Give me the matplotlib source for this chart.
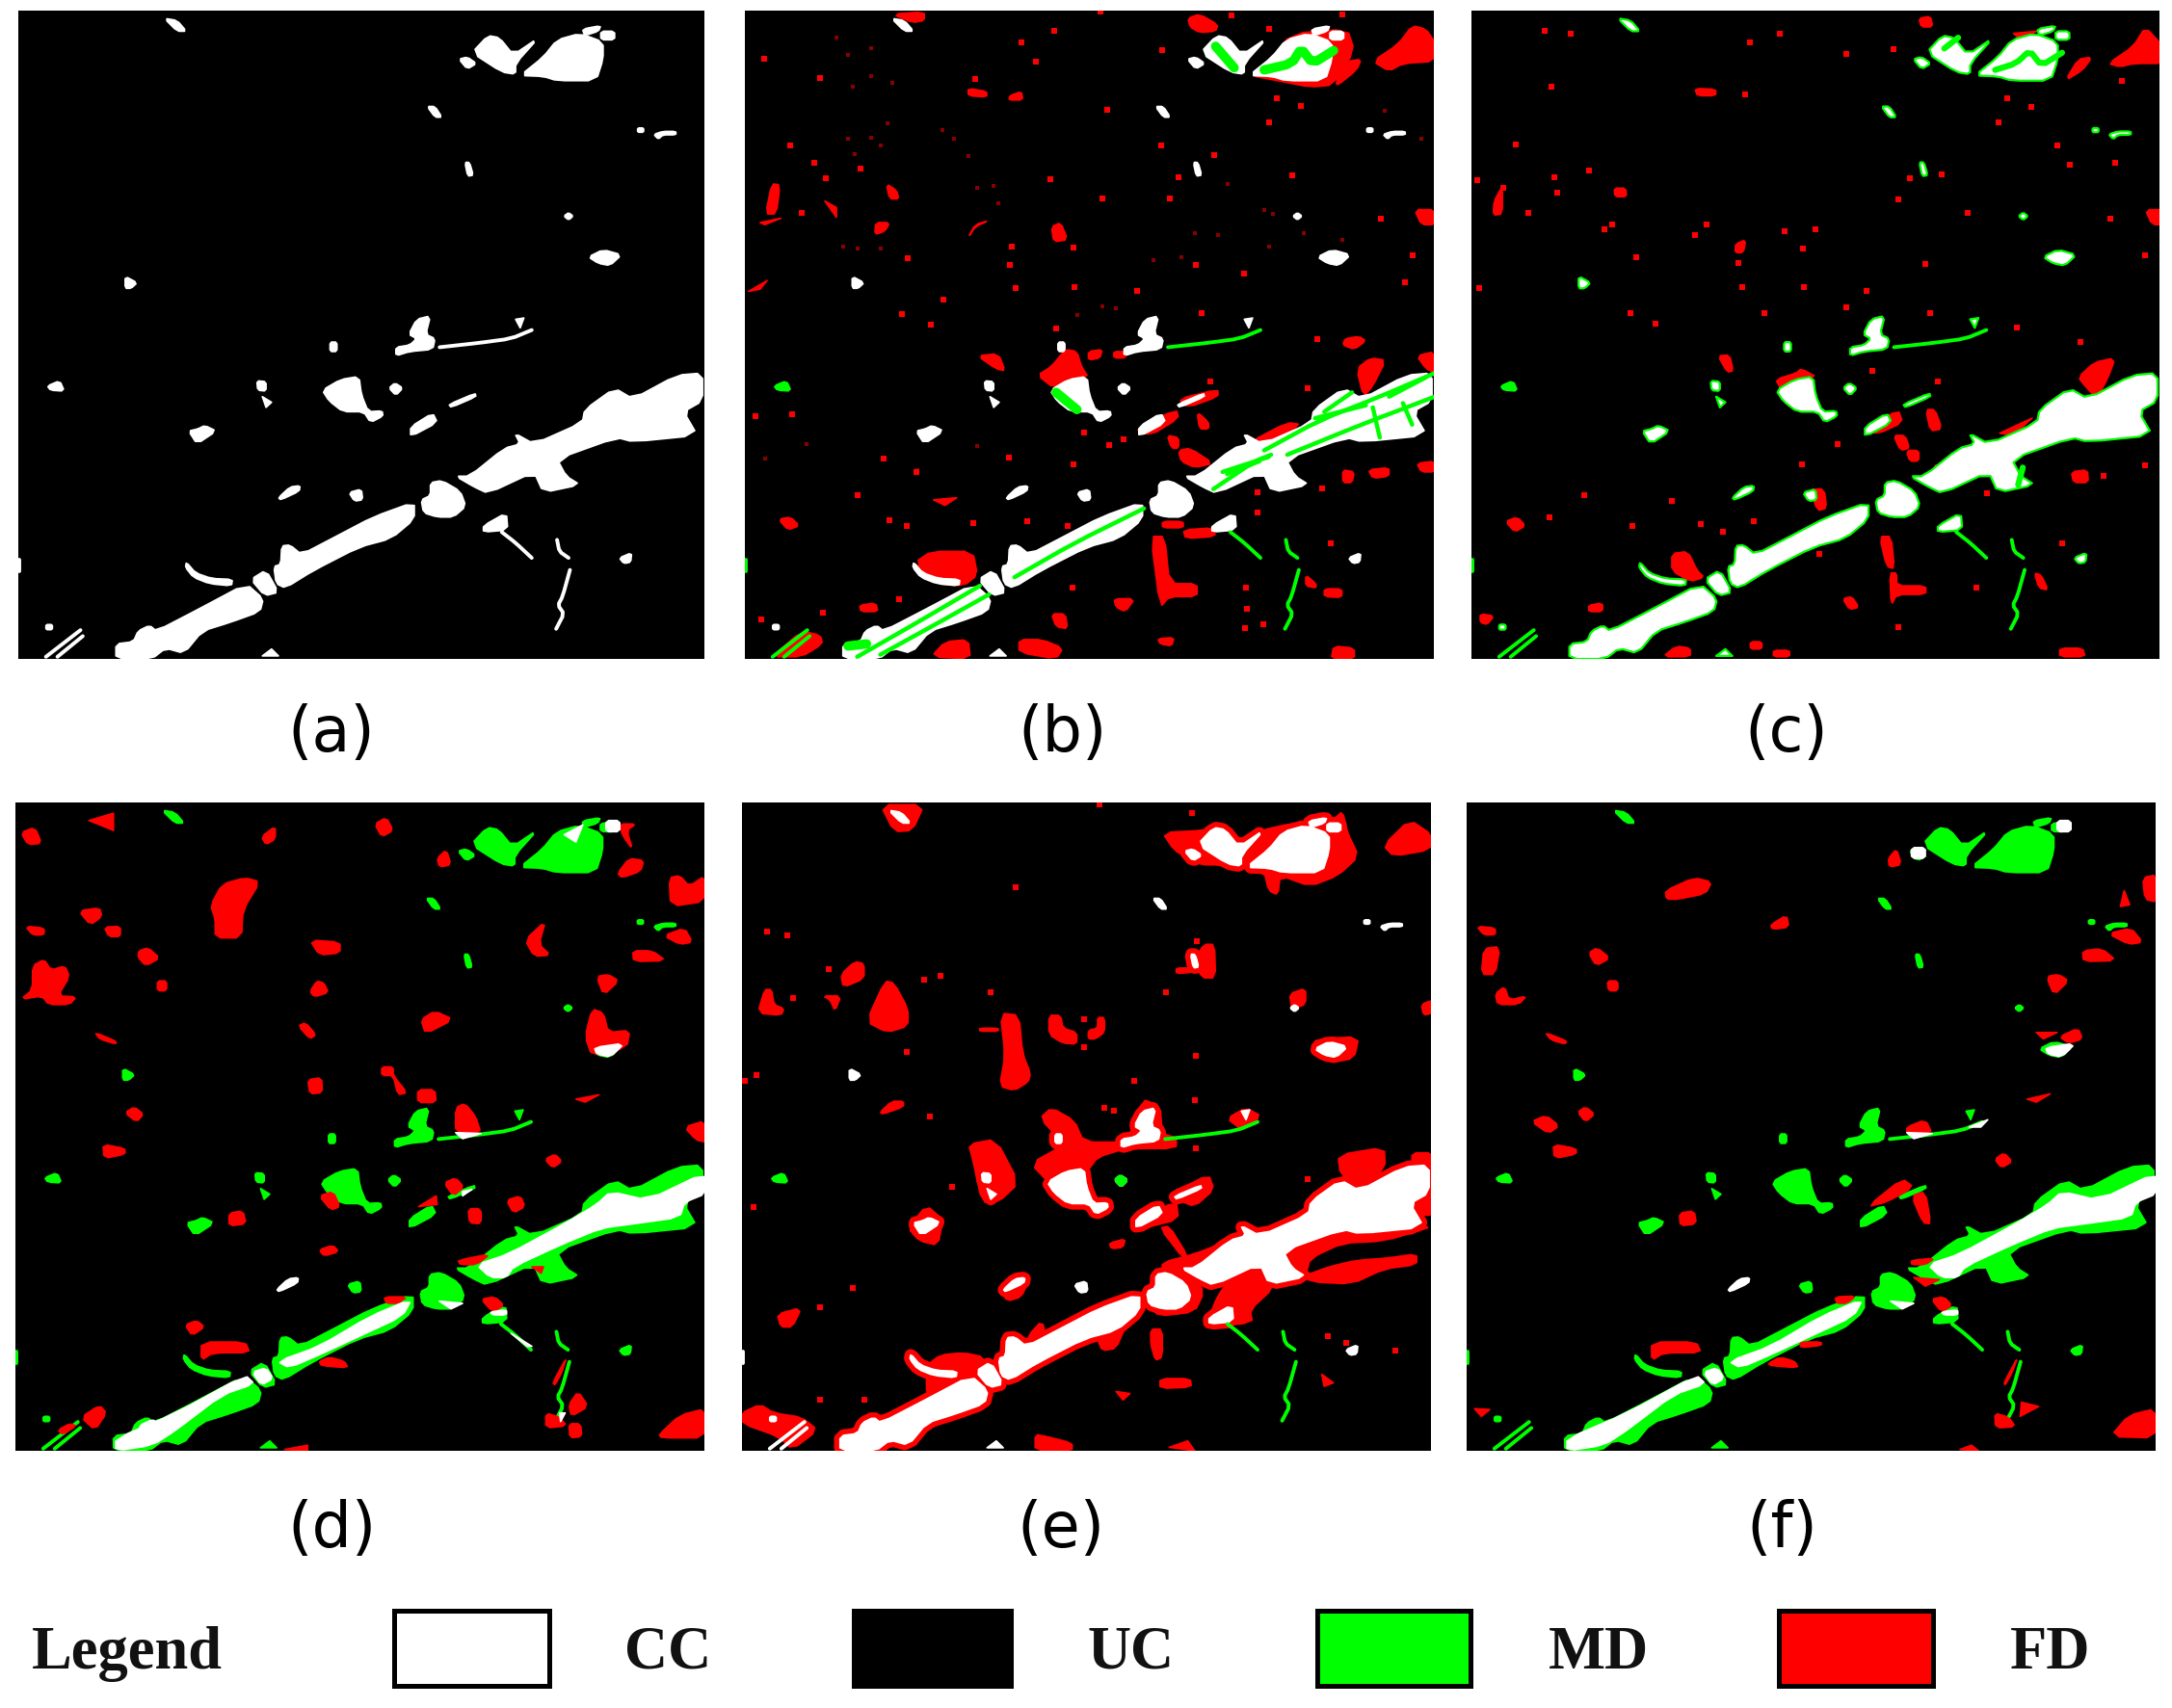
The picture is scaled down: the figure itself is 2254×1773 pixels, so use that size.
import numpy as np
import matplotlib
matplotlib.use('Agg')
import matplotlib.pyplot as plt
from matplotlib.patches import Rectangle

GREEN = '#00ff00'
RED = '#ff0000'
W, H = 2254, 1774

# shapes, reference scene = panel (a) crop coords
ROAD = [
    [(252,1500),(290,1495),(300,1470),(325,1457),(340,1470),(430,1420),(535,1360),(572,1395),(565,1425),(500,1450),(440,1470),(400,1522),(360,1510),(330,1535),(252,1535)],
    [(545,1350),(578,1328),(605,1380),(575,1388)],
    [(595,1320),(610,1315),(612,1272),(630,1270),(655,1292),(730,1250),(810,1205),(900,1170),(900,1210),(850,1255),(780,1275),(680,1330),(620,1370),(600,1360)],
    [(935,1125),(960,1120),(1000,1145),(1012,1180),(985,1205),(950,1205),(920,1195),(915,1165),(935,1155)],
    [(990,1110),(1020,1110),(1095,1045),(1130,1035),(1118,1010),(1160,1035),(1265,985),(1270,955),(1335,905),(1375,930),(1470,875),(1526,870),(1526,935),(1485,960),(1515,1015),(1375,1030),(1340,1020),(1210,1070),(1230,1110),(1260,1130),(1180,1148),(1160,1100),(1060,1150),(1030,1135)],
]
PATCHES = [
    [(1025,125),(1060,85),(1085,90),(1115,130),(1170,90),(1120,150),(1120,175),(1090,170)],
    [(997,140),(1015,135),(1035,150),(1015,163)],
    [(1130,178),(1180,135),(1210,95),(1260,80),(1310,100),(1310,140),(1295,190),(1210,190),(1180,180)],
    [(1265,70),(1305,62),(1300,75),(1270,85)],
    [(1305,75),(1335,75),(1335,95),(1305,95)],
    [(357,45),(385,50),(405,75),(385,75)],
    [(928,250),(945,250),(960,275),(945,275)],
    [(1385,300),(1398,300),(1398,310),(1385,310)],
    [(1420,315),(1440,308),(1468,308),(1468,316),(1440,316),(1430,326)],
    [(1010,380),(1020,380),(1028,410),(1016,412)],
    [(1225,505),(1235,497),(1245,505),(1235,514)],
    [(1278,600),(1310,583),(1350,595),(1325,620),(1300,615)],
    [(272,645),(298,660),(285,673),(272,673)],
    [(905,745),(935,737),(925,780),(945,790),(940,815),(890,820),(860,830),(860,810),(890,805),(905,790),(888,780)],
    [(1120,745),(1138,742),(1130,765)],
    [(717,798),(732,798),(732,820),(717,820)],
    [(558,888),(578,890),(578,912),(560,910)],
    [(570,925),(590,938),(578,950)],
    [(700,910),(740,885),(780,878),(785,920),(800,960),(830,958),(832,970),(805,985),(790,960),(745,960),(715,935)],
    [(845,905),(858,893),(875,905),(860,922)],
    [(975,943),(1032,917),(1034,925),(980,950)],
    [(892,995),(940,963),(950,985),(892,1018)],
    [(410,1005),(430,1000),(445,992),(470,1005),(428,1035)],
    [(758,1148),(785,1140),(788,1165),(770,1168)],
    [(1050,1225),(1100,1195),(1103,1235),(1050,1240)],
    [(1345,1300),(1372,1288),(1370,1310),(1355,1313)],
    [(405,1310),(425,1335),(460,1348),(505,1350),(503,1365),(455,1360),(420,1345),(403,1322)],
    [(570,1528),(590,1512),(605,1528)],
    [(100,1455),(114,1455),(114,1467),(100,1467)],
]
# indices of PATCHES that get the red halo in panel (e)
HALO_E = [0, 1, 2, 3, 4, 5, 9, 11, 13, 15, 16, 17, 18, 20, 21, 22, 24, 26]
TRIANGLE = [(103,900),(130,888),(140,912),(110,910)]
STREAK = [(605,1160),(630,1135),(652,1132),(650,1145),(610,1165)]
THIN_LINES = [
    [(955,810),(1040,800),(1110,790),(1155,770)],
    [(1090,1240),(1120,1265),(1155,1300)],
    [(1210,1258),(1215,1285),(1235,1300)],
    [(1238,1328),(1222,1390),(1212,1410),(1225,1430),(1208,1465)],
    [(100,1530),(175,1468)],
    [(125,1530),(180,1482)],
    [(42,1305),(42,1330)],
]

GREEN_B = [
    [(270,1530),(400,1450),(535,1365)], [(320,1525),(430,1460),(555,1385)],
    [(610,1345),(740,1265),(890,1185)], [(1040,1140),(1130,1075),(1165,1060)],
    [(1060,1100),(1160,1065)], [(1150,1050),(1270,980),(1400,925),(1519,870)],
    [(1200,1060),(1360,990),(1519,925)], [(1385,950),(1400,1020)], [(1450,940),(1470,990)],
    [(1260,975),(1370,945)], [(1070,1105),(1140,1075)], [(1280,960),(1340,915)],
    [(1420,925),(1500,880)],
]
GREEN_B_WIDE = [
    [(1150,165),(1210,150),(1230,115),(1255,150),(1300,120)], [(1045,110),(1085,160)],
    [(700,915),(745,955)], [(250,1505),(290,1500)],
]
GREEN_C = [
    [(1170,165),(1215,150),(1245,120),(1270,155),(1315,125)], [(1060,115),(1090,90)],
    [(1230,1090),(1220,1130)],
]

RED_B = [
    [(985,45),(1010,35),(1050,60),(1045,75),(1010,78),(990,65)],
    [(1385,145),(1440,105),(1470,62),(1500,70),(1519,100),(1519,145),(1450,150),(1420,168)],
    [(1305,195),(1330,145),(1360,140),(1350,165),(1310,200)],
    [(1120,178),(1160,145),(1210,80),(1330,70),(1345,120),(1300,200),(1250,205),(1180,190)],
    [(905,1250),(935,1250),(945,1360),(1005,1360),(1005,1390),(945,1390),(925,1415)],
    [(395,1310),(430,1285),(520,1285),(530,1340),(500,1365),(440,1360)],
    [(85,430),(103,432),(95,500),(72,500)], [(333,430),(355,445),(360,465),(340,465)],
    [(310,520),(340,520),(330,540),(308,548)], [(510,208),(550,215),(550,228),(510,225)],
    [(600,225),(625,215),(628,235),(598,235)], [(690,530),(710,520),(725,560),(695,565)],
    [(530,830),(575,825),(590,865),(570,860)],
    [(660,875),(690,855),(720,815),(745,820),(755,855),(770,880),(695,905)],
    [(770,820),(800,815),(795,835),(770,840)], [(825,820),(850,820),(850,835),(825,835)],
    [(1325,790),(1355,785),(1370,795),(1345,815),(1320,805)],
    [(1350,860),(1380,835),(1413,840),(1385,900),(1365,925)],
    [(1480,830),(1519,820),(1519,870),(1500,860)], [(1475,490),(1519,490),(1519,525),(1490,525)],
    [(965,1050),(990,1045),(1040,1080),(1000,1090),(970,1075)],
    [(940,1015),(965,1020),(965,1045),(950,1045)], [(1005,960),(1030,985),(1030,1000),(1010,1000)],
    [(870,1000),(960,955),(965,975),(905,1015)], [(965,930),(1050,908),(1050,925),(985,950)],
    [(1120,1030),(1200,985),(1230,990),(1160,1030)],
    [(930,1215),(975,1215),(975,1230),(930,1230)], [(975,1235),(1040,1230),(1045,1250),(980,1255)],
    [(1240,1340),(1262,1360),(1262,1370),(1240,1365)], [(1280,1372),(1318,1372),(1318,1392),(1280,1390)],
    [(825,1395),(870,1395),(850,1425),(830,1415)], [(690,1430),(720,1430),(725,1465),(700,1460)],
    [(920,1488),(955,1485),(950,1505),(925,1500)], [(430,1530),(460,1495),(510,1490),(515,1535)],
    [(620,1490),(670,1490),(715,1510),(700,1535),(620,1520)], [(1300,1505),(1345,1510),(1345,1535),(1295,1535)],
    [(85,1530),(150,1470),(190,1480),(195,1500),(150,1530)], [(275,1410),(310,1405),(315,1425),(278,1425)],
    [(100,1210),(125,1205),(145,1225),(120,1235)], [(1375,1095),(1420,1090),(1420,1110),(1385,1115)],
    [(1480,1080),(1519,1075),(1519,1100),(1490,1100)], [(1320,1095),(1345,1100),(1340,1125),(1320,1125)],
    [(35,680),(75,655),(60,675)], [(60,520),(105,510),(70,525)], [(510,555),(525,525),(555,515),(525,530)],
    [(345,35),(415,30),(415,50),(390,55)], [(200,470),(225,485),(225,508)], [(435,1165),(485,1160),(460,1178)],
]
SPECK_B = [(125,340),(68,138),(625,102),(657,145),(930,118),(1160,70),(1177,230),(1230,248),(1160,288),(1042,362),(927,340),(965,415),(1210,410),(945,465),(1402,510),(1472,597),(1003,618),(1107,638),(875,680),(740,670),(612,672),(367,733),(605,575),(600,618),(738,578),(800,465),(688,420),(202,418),(150,497),(380,603),(277,395),(178,382),(430,757),(457,700),(700,767),(1015,730),(1265,790),(1245,905),(1033,890),(327,1068),(597,1067),(738,1083),(398,1100),(270,1155),(520,1220),(378,1225),(340,1213),(638,1215),(725,1225),(1135,1195),(1135,1147),(1295,1267),(1110,1370),(1112,1418),(1108,1463),(1148,1455),(360,1395),(195,1428),(62,1443),(735,1370),(1275,1138),(50,970),(130,965),(760,1008),(815,1037),(845,1025),(1455,660),(810,257),(695,75),(190,183),(525,185),(795,30),(1080,38),(1320,35)]
SPECK_B_DIM = [(225,90),(300,115),(250,130),(260,205),(300,180),(345,195),(250,325),(300,322),(320,340),(265,360),(455,305),(510,365),(480,325),(335,290),(530,440),(565,435),(575,475),(240,575),(270,580),(320,580),(910,607),(970,600),(1050,550),(800,715),(830,720),(745,735),(160,1035),(70,1070),(400,1095),(530,1040),(1000,545),(1170,500),(1160,575),(1235,545),(1320,560),(1410,260),(1490,325),(1070,430),(1150,490)]

RED_C = [
    [(1415,150),(1470,110),(1495,65),(1530,105),(1535,150),(1470,150),(1440,158)],
    [(1322,190),(1350,140),(1380,135),(1360,165)], [(1005,45),(1030,40),(1035,65),(1010,65)],
    [(920,1250),(945,1250),(952,1325),(935,1320)],
    [(942,1335),(957,1335),(957,1365),(1020,1365),(1020,1385),(957,1385),(945,1410)],
    [(470,1290),(505,1285),(525,1330),(540,1345),(510,1355),(470,1330)],
    [(1350,880),(1385,845),(1430,835),(1415,880),(1390,930),(1365,900)],
    [(1020,955),(1040,955),(1055,1000),(1030,1005)], [(950,1015),(975,1015),(985,1045),(965,1050)],
    [(978,1050),(1005,1050),(1005,1075),(985,1075)], [(895,1000),(960,955),(970,985),(915,1012)],
    [(1335,1100),(1370,1095),(1372,1125),(1340,1125)], [(110,1215),(135,1205),(153,1225),(130,1240)],
    [(85,470),(103,435),(103,500),(83,503)], [(345,440),(370,440),(372,460),(347,460)],
    [(520,208),(565,210),(565,225),(525,225)], [(608,570),(630,560),(625,590),(607,590)],
    [(570,830),(595,828),(603,865),(590,868)], [(695,885),(740,870),(750,860),(785,880),(705,905)],
    [(1495,490),(1540,490),(1540,525),(1510,525)], [(450,1530),(480,1505),(510,1510),(510,1530)],
    [(1310,1510),(1360,1510),(1365,1530),(1310,1530)], [(640,1495),(665,1495),(665,1512),(640,1512)],
    [(690,1515),(725,1515),(725,1530),(690,1530)], [(1255,1335),(1270,1340),(1285,1375),(1265,1370)],
    [(840,1395),(860,1390),(875,1415),(855,1420)], [(55,1430),(85,1435),(70,1455),(55,1450)],
    [(290,1410),(320,1405),(320,1425),(290,1425)], [(770,1140),(800,1140),(805,1185),(785,1190)],
    [(1040,1085),(1080,1078),(1040,1095)], [(1180,1010),(1250,975),(1210,1015)],
    [(1280,960),(1330,925),(1300,960)], [(1210,80),(1260,75),(1225,95)],
]
SPECK_C = [(195,75),(250,80),(640,102),(703,80),(847,128),(950,117),(1197,232),(1177,288),(1305,340),(1430,380),(1332,385),(1055,408),(985,418),(960,466),(1110,497),(1420,510),(1495,597),(1018,617),(892,678),(757,670),(623,670),(753,580),(780,535),(715,540),(615,615),(392,600),(160,497),(222,450),(215,415),(105,440),(133,338),(48,422),(52,672),(380,730),(435,755),(670,730),(848,717),(1030,730),(1218,765),(1355,798),(1045,890),(905,865),(828,1035),(752,1082),(648,1215),(532,1222),(385,1225),(280,1155),(580,1240),(790,1290),(1152,1150),(1130,1370),(1315,1265),(1405,1110),(1495,1085),(960,1462),(1445,190),(1248,250),(628,222),(210,203),(325,535),(340,525),(520,550),(290,400),(545,525),(470,1168),(205,1205)]

RED_D = [
    [(455,260),(480,210),(530,195),(562,205),(525,270),(522,335),(465,335),(465,290)],
    [(70,400),(95,385),(110,410),(140,400),(150,425),(125,470),(165,472),(150,490),(105,490),(90,470),(45,478),(70,455)],
    [(45,90),(75,78),(90,115),(60,118)], [(192,62),(245,45),(245,85)], [(565,100),(595,75),(595,105),(575,118)],
    [(810,70),(835,55),(850,85),(825,100)], [(170,272),(215,265),(220,285),(195,305)],
    [(225,310),(260,308),(260,332),(235,332)], [(55,308),(95,312),(95,328),(70,328)],
    [(670,340),(735,345),(735,370),(690,375)], [(300,365),(320,358),(345,382),(315,400),(298,380)],
    [(340,435),(360,435),(360,458),(340,458)], [(670,460),(685,435),(700,440),(710,462),(680,472)],
    [(645,540),(660,532),(683,560),(670,570)], [(205,555),(250,575),(250,582),(215,570)],
    [(910,525),(940,505),(980,525),(920,558)], [(665,665),(695,660),(697,695),(670,698)],
    [(825,635),(850,635),(850,655),(880,695),(860,700),(850,655),(825,655)], [(903,688),(940,688),(943,718),(903,718)],
    [(270,742),(290,728),(310,745),(295,763)], [(222,815),(270,825),(270,838),(225,848)],
    [(985,730),(1005,720),(1028,750),(1040,790),(985,790)], [(495,975),(525,970),(532,1000),(495,1005)],
    [(690,935),(720,925),(735,960),(715,968)], [(960,905),(985,893),(1003,915),(980,935)],
    [(905,960),(943,935),(945,955)], [(1012,965),(1040,965),(1040,1000),(1015,998)],
    [(1095,945),(1125,935),(1135,960),(1110,975)], [(690,1060),(720,1050),(732,1065),(700,1075)],
    [(1178,850),(1200,838),(1215,855),(1195,870)], [(1480,775),(1525,760),(1525,810),(1505,805)],
    [(1447,195),(1470,190),(1490,215),(1525,190),(1525,250),(1450,262)], [(1368,365),(1410,365),(1440,388),(1370,390)],
    [(1135,340),(1180,295),(1165,350),(1190,375),(1155,378)], [(1290,425),(1315,420),(1338,435),(1305,468)],
    [(1280,500),(1305,510),(1315,555),(1362,550),(1355,590),(1280,610),(1265,565)], [(1435,330),(1480,312),(1497,345),(1470,350)],
    [(1245,710),(1295,700),(1265,717)], [(1335,185),(1360,150),(1392,155),(1385,180),(1345,195)],
    [(945,150),(965,130),(975,165),(950,170)], [(1340,70),(1375,70),(1355,85),(1368,130),(1345,95)],
    [(400,1235),(425,1225),(442,1240),(415,1260)], [(435,1275),(530,1275),(540,1300),(460,1300),(435,1318)],
    [(830,1170),(880,1170),(860,1185),(835,1185)], [(690,1320),(712,1310),(745,1320),(752,1335),(695,1330)],
    [(1040,1175),(1070,1170),(1090,1190),(1065,1205)], [(1195,1370),(1225,1310),(1215,1345),(1200,1375)],
    [(1180,1440),(1210,1450),(1225,1470),(1180,1475)], [(1230,1420),(1250,1390),(1272,1425),(1235,1448)],
    [(1230,1465),(1255,1465),(1258,1495),(1232,1498)], [(1425,1490),(1470,1445),(1526,1430),(1526,1498),(1430,1498)],
    [(175,1450),(215,1422),(230,1440),(205,1480)], [(125,1480),(150,1465),(165,1470),(135,1490)],
    [(615,1525),(665,1515),(665,1528)], [(990,1085),(1060,1070),(1030,1095),(995,1095)], [(1150,1100),(1175,1100),(1170,1115)],
]
WHITE_D = [
    [(250,1500),(380,1440),(530,1352),(550,1372),(480,1398),(380,1480),(330,1515),(250,1528)],
    [(545,1345),(575,1335),(590,1360),(565,1375)],
    [(600,1320),(690,1285),(800,1215),(890,1175),(870,1215),(780,1260),(700,1300),(625,1335)],
    [(1030,1095),(1100,1070),(1220,1000),(1290,955),(1320,925),(1400,945),(1526,880),(1526,930),(1480,950),(1470,985),(1370,1000),(1300,1010),(1210,1050),(1110,1100),(1095,1125),(1060,1125)],
    [(1220,95),(1260,72),(1245,112)], [(1310,62),(1340,62),(1340,88),(1310,88)],
    [(950,1180),(1000,1185),(975,1198)], [(1285,590),(1350,580),(1320,612),(1290,605)],
    [(985,788),(1040,790),(1000,802)], [(1060,1205),(1095,1200),(1095,1212),(1065,1212)],
    [(1105,1255),(1150,1285),(1140,1285)], [(1210,1440),(1222,1440),(1212,1460)],
    [(1000,925),(1020,920),(1000,935)], [(300,1470),(330,1455),(340,1465),(310,1485)],
]

RED_E = [
    [(320,25),(415,25),(390,85),(350,88)],
    [(930,90),(1020,85),(1050,75),(1100,110),(1170,75),(1300,60),(1320,40),(1330,90),(1355,145),(1310,190),(1250,215),(1185,190),(1180,235),(1160,225),(1150,180),(1050,165),(1015,165),(985,150),(955,130)],
    [(1408,120),(1465,60),(1513,95),(1510,130),(1430,145)],
    [(290,530),(330,435),(350,440),(380,500),(380,540),(335,555)], [(55,510),(70,455),(85,455),(90,490),(112,500),(105,515)],
    [(235,420),(265,390),(285,395),(285,430),(240,450)], [(197,470),(235,470),(222,505),(212,480)],
    [(580,510),(620,515),(628,605),(645,650),(640,670),(610,690),(578,680),(590,610)],
    [(685,515),(710,515),(715,545),(745,555),(745,582),(715,580),(685,560)],
    [(770,550),(790,545),(790,520),(805,520),(805,555),(785,570),(770,570)],
    [(511,815),(570,803),(620,905),(575,950),(540,950),(520,850)],
    [(645,860),(720,815),(665,755),(690,730),(740,760),(760,810),(850,810),(850,825),(790,845),(770,875),(690,910)],
    [(885,710),(925,725),(930,790),(960,800),(960,825),(850,825)],
    [(1310,840),(1410,822),(1412,870),(1360,920),(1315,885)], [(1470,835),(1513,835),(1513,865),(1470,865)],
    [(1480,940),(1513,935),(1513,980),(1490,980)], [(1250,590),(1265,570),(1355,565),(1345,615),(1295,625)],
    [(380,1010),(420,957),(455,990),(445,1050),(405,1040)], [(925,1010),(945,1005),(985,1075),(975,1080)],
    [(875,1000),(960,945),(965,990),(890,1010)], [(960,925),(1030,885),(1042,920),(1000,960),(965,945)],
    [(1060,1150),(1100,1110),(1165,1110),(1170,1150),(1120,1200),(1125,1230),(1030,1240),(1040,1190)],
    [(1200,1065),(1340,1015),(1500,1005),(1505,1010),(1410,1040),(1320,1045),(1250,1080),(1240,1120),(1290,1100),(1350,1085),(1415,1080),(1480,1070),(1480,1095),(1410,1105),(1340,1140),(1250,1135),(1225,1110)],
    [(905,1150),(920,1110),(1000,1120),(1020,1160),(1000,1205),(920,1215),(905,1185)],
    [(905,1245),(930,1245),(930,1310),(915,1318),(905,1280)],
    [(420,1330),(450,1305),(500,1300),(545,1310),(540,1345),(500,1370),(440,1400),(420,1400)],
    [(20,1440),(60,1420),(90,1440),(150,1450),(185,1480),(130,1525),(100,1495),(22,1465)],
    [(97,1210),(150,1195),(130,1240),(105,1240)], [(655,1490),(680,1495),(735,1510),(735,1528),(655,1528)],
    [(925,1360),(990,1360),(993,1380),(925,1383)], [(830,1390),(860,1395),(845,1410)], [(945,1520),(985,1505),(1000,1528)],
    [(1275,1350),(1300,1370),(1280,1378)], [(815,1045),(850,1035),(845,1055),(820,1058)],
    [(320,740),(345,715),(370,715),(370,728),(325,745)], [(580,1155),(640,1135),(625,1170),(595,1180)],
    [(1205,465),(1240,452),(1240,490),(1210,500)], [(1020,350),(1043,350),(1045,428),(1015,428),(1000,385)],
    [(960,405),(995,405),(995,415),(960,418)], [(1490,490),(1513,480),(1513,510),(1495,515)],
    [(1070,755),(1110,730),(1145,750),(1100,780)], [(640,1260),(670,1225),(680,1270),(640,1290)],
    [(790,1270),(850,1240),(830,1290),(800,1295)], [(930,1090),(1000,1070),(1060,1045),(1000,1115),(930,1115)],
    [(535,545),(575,545),(575,552),(535,552)],
]
SPECK_E = [(612,218),(75,320),(118,330),(208,408),(450,423),(415,432),(558,462),(132,474),(378,600),(760,525),(760,590),(938,462),(1005,342),(1002,610),(870,667),(1000,712),(805,730),(825,738),(428,750),(260,1150),(475,913),(1245,895),(47,962),(1002,825),(190,1410),(285,1410),(1288,1262),(1328,1278),(1433,1295),(995,45),(795,25),(52,655),(28,668),(190,1195)]

RED_F = [
    [(468,225),(530,195),(568,205),(555,232),(495,245),(470,245)], [(60,308),(100,312),(100,328),(75,328)],
    [(75,360),(110,355),(100,420),(70,420)], [(100,465),(120,448),(130,480),(168,470),(150,490),(105,490)],
    [(695,305),(730,282),(735,310),(700,315)], [(302,370),(320,358),(348,382),(318,400)],
    [(342,435),(365,435),(365,458),(345,458)], [(208,555),(255,575),(250,582),(220,572)],
    [(278,740),(295,728),(315,745),(295,763)], [(178,762),(210,748),(238,772),(215,790)],
    [(225,815),(275,825),(275,838),(228,848)], [(498,975),(530,970),(535,1000),(500,1005)],
    [(905,960),(980,895),(1005,915),(945,950)], [(1000,935),(1030,925),(1042,1000),(1025,998)],
    [(990,775),(1030,758),(1045,790),(990,790)], [(1180,850),(1200,835),(1218,855),(1195,870)],
    [(1270,555),(1315,555),(1285,570)], [(1320,565),(1360,545),(1370,570),(1340,580)],
    [(1250,710),(1300,698),(1270,717)], [(1292,425),(1318,420),(1340,435),(1308,468)],
    [(1370,365),(1412,360),(1443,388),(1372,390)], [(1425,325),(1475,312),(1500,345),(1470,350)],
    [(1452,262),(1460,225),(1472,258)], [(1500,195),(1530,188),(1530,252),(1505,245)],
    [(950,150),(968,128),(978,165),(952,170)], [(438,1275),(535,1275),(545,1300),(465,1300),(438,1318)],
    [(835,1170),(880,1168),(860,1185),(838,1185)], [(760,1275),(805,1275),(805,1283),(760,1288)],
    [(690,1325),(715,1310),(748,1320),(755,1335),(697,1330)], [(1043,1175),(1070,1170),(1088,1190),(1065,1205)],
    [(1200,1370),(1230,1310),(1218,1345),(1203,1375)], [(1180,1440),(1210,1450),(1225,1472),(1182,1475)],
    [(1235,1448),(1238,1415),(1275,1425)], [(1430,1495),(1470,1445),(1529,1430),(1529,1498)],
    [(55,1430),(88,1432),(70,1448)], [(1105,1525),(1130,1515),(1145,1528)],
    [(1000,1085),(1050,1080),(1030,1095),(1000,1095)], [(1005,1125),(1060,1130),(1030,1145)],
]
WHITE_F = [
    [(1000,125),(1030,125),(1030,150),(1000,150)], [(1125,775),(1165,758),(1150,775)],
]

PANEL_LABELS = ['(a)', '(b)', '(c)', '(d)', '(e)', '(f)']
LABEL_X = [344, 1103, 1854, 345, 1101, 1849]
LABEL_Y = [762, 762, 762, 1588, 1588, 1588]
# panel boxes in figure pixels: left, top, right, bottom
BOXES = [(19,12,731,685), (773,12,1488,685), (1527,12,2241,685),
         (16,834,731,1507), (770,834,1485,1507), (1522,834,2237,1507)]
# crop coordinates of the panel's top left corner
ORIGINS = [(40,27), (27,27), (36,27), (33,20), (21,20), (38,20)]

LEGEND_NAMES = ['CC', 'UC', 'MD', 'FD']
LEGEND_COLORS = ['white', 'black', GREEN, RED]
LEGEND_LEFT = [407, 884, 1365, 1844]
LEGEND_RIGHT = [572, 1051, 1528, 2008]
LEGEND_TEXT_X = [648, 1128, 1607, 2086]


def smooth(p, closed=True, n=1):
    # corner cutting, rounds the outlines a bit
    p = np.array(p, dtype=float)
    for _ in range(n):
        nxt = np.roll(p, -1, axis=0)
        q = 0.8 * p + 0.2 * nxt
        r = 0.2 * p + 0.8 * nxt
        pts = np.empty((2 * len(p), 2))
        pts[0::2] = q
        pts[1::2] = r
        if closed:
            p = pts
        else:
            p = np.vstack([p[0], pts[:-2], p[-1]])
    return p


def fill(ax, polys, color, off=(0, 0), edge=None, lw=1.2, z=2):
    for poly in polys:
        p = smooth(poly) if len(poly) > 3 else np.array(poly, dtype=float)
        ax.fill(p[:, 0] + off[0], p[:, 1] + off[1], facecolor=color,
                edgecolor=edge if edge else color, linewidth=lw,
                joinstyle='round', zorder=z)


def lines(ax, polys, color, off=(0, 0), lw=2.8, z=3):
    for poly in polys:
        p = smooth(poly, closed=False) if len(poly) > 2 else np.array(poly, dtype=float)
        ax.plot(p[:, 0] + off[0], p[:, 1] + off[1], color=color, lw=lw,
                solid_capstyle='round', zorder=z)


def specks(ax, pts, color=RED, size=22, z=2):
    xs, ys = zip(*pts)
    ax.scatter(xs, ys, s=size, marker='s', color=color, linewidths=0, zorder=z)


fig = plt.figure(figsize=(W / 100, H / 100), dpi=100, facecolor='white')

axes = []
for box, org in zip(BOXES, ORIGINS):
    l, t, r, b = box
    ax = fig.add_axes([l / W, 1 - b / H, (r - l) / W, (b - t) / H], facecolor='black')
    ax.set_xlim(org[0], org[0] + 1490)
    ax.set_ylim(org[1] + 1508, org[1])
    ax.set_xticks([])
    ax.set_yticks([])
    ax.autoscale(False)
    for s in ax.spines.values():
        s.set_visible(False)
    axes.append(ax)

# (a) reference map
fill(axes[0], ROAD + PATCHES + [TRIANGLE, STREAK], 'white')
lines(axes[0], THIN_LINES, 'white')

# (b)
off = (ORIGINS[1][0] - 40, ORIGINS[1][1] - 27)
specks(axes[1], SPECK_B_DIM, color='#8a0000', size=5)
fill(axes[1], RED_B, RED)
specks(axes[1], SPECK_B)
fill(axes[1], ROAD + PATCHES + [STREAK], 'white', off, z=3)
fill(axes[1], [TRIANGLE], GREEN, off, z=3)
lines(axes[1], THIN_LINES, GREEN, off, z=4)
lines(axes[1], GREEN_B, GREEN, lw=3.2, z=4)
lines(axes[1], GREEN_B_WIDE, GREEN, lw=7, z=4)

# (c)
off = (ORIGINS[2][0] - 40, ORIGINS[2][1] - 27)
fill(axes[2], RED_C, RED)
specks(axes[2], SPECK_C, size=18)
fill(axes[2], ROAD + PATCHES + [STREAK], 'white', off, edge=GREEN, lw=1.6, z=3)
fill(axes[2], [TRIANGLE], GREEN, off, z=3)
lines(axes[2], THIN_LINES, GREEN, off, z=4)
lines(axes[2], GREEN_C, GREEN, lw=4.5, z=4)

# (d)
off = (ORIGINS[3][0] - 40, ORIGINS[3][1] - 27)
fill(axes[3], ROAD + PATCHES + [TRIANGLE], GREEN, off, z=2)
fill(axes[3], [STREAK], 'white', off, z=2)
lines(axes[3], THIN_LINES, GREEN, off, z=2)
fill(axes[3], RED_D, RED, z=3)
fill(axes[3], WHITE_D, 'white', z=5)

# (e)
off = (ORIGINS[4][0] - 40, ORIGINS[4][1] - 27)
fill(axes[4], RED_E, RED)
specks(axes[4], SPECK_E)
halo_patches = [PATCHES[i] for i in HALO_E]
fill(axes[4], ROAD + halo_patches + [STREAK], RED, off, edge=RED, lw=9, z=3)
fill(axes[4], ROAD + PATCHES + [STREAK], 'white', off, z=4)
fill(axes[4], [TRIANGLE, PATCHES[19]], GREEN, off, z=4)
lines(axes[4], THIN_LINES[:4], GREEN, off, z=5)
lines(axes[4], THIN_LINES[4:], 'white', off, z=5)

# (f)
off = (ORIGINS[5][0] - 40, ORIGINS[5][1] - 27)
fill(axes[5], ROAD + PATCHES + [TRIANGLE], GREEN, off, z=2)
fill(axes[5], [STREAK], 'white', off, z=2)
lines(axes[5], THIN_LINES, GREEN, off, z=2)
fill(axes[5], RED_F, RED, z=3)
d_to_f = (ORIGINS[5][0] - ORIGINS[3][0], ORIGINS[5][1] - ORIGINS[3][1])
fill(axes[5], WHITE_D[:4] + WHITE_D[5:10], 'white', d_to_f, z=5)
fill(axes[5], WHITE_F, 'white', z=5)

# labels and legend share one full figure axes in pixel coordinates
top = fig.add_axes([0, 0, 1, 1], facecolor='none')
top.set_xlim(0, W)
top.set_ylim(H, 0)
top.axis('off')

for name, x, y in zip(PANEL_LABELS, LABEL_X, LABEL_Y):
    top.text(x, y, name, fontsize=47, family='DejaVu Sans', ha='center', va='center', color='black')

top.text(33, 1717, 'Legend', fontsize=45, family='Liberation Serif', fontweight='bold',
         ha='left', va='center', color='#111111')
for name, color, x0, x1, tx in zip(LEGEND_NAMES, LEGEND_COLORS, LEGEND_LEFT, LEGEND_RIGHT, LEGEND_TEXT_X):
    top.add_patch(Rectangle((x0 + 2, 1671 + 2), x1 - x0 - 4, 78, facecolor=color, edgecolor='black', linewidth=3.6))
    top.text(tx, 1717, name, fontsize=45, family='Liberation Serif', fontweight='bold',
             ha='left', va='center', color='#111111')

fig.savefig('out.png', dpi=100)
